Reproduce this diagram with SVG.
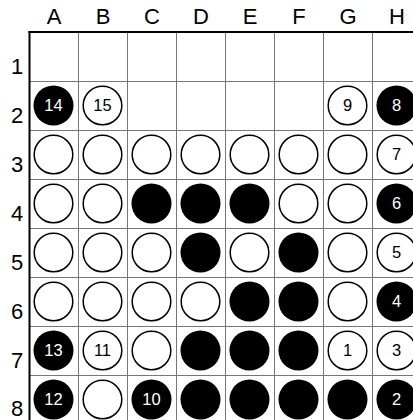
<svg xmlns="http://www.w3.org/2000/svg" width="413" height="420" viewBox="0 0 413 420">
<defs>
<style>
.b{fill:#000}
.w{fill:#fff;stroke:#000;stroke-width:1.5}
.grid{stroke:#777;stroke-width:1}
</style>
</defs>
<rect width="413" height="420" fill="#fff"/>
<g id="labels" font-family="'Liberation Sans', Arial, sans-serif" font-size="22" fill="#000" text-anchor="middle">
<text x="54" y="24">A</text>
<text x="103" y="24">B</text>
<text x="152" y="24">C</text>
<text x="201" y="24">D</text>
<text x="250" y="24">E</text>
<text x="299" y="24">F</text>
<text x="348" y="24">G</text>
<text x="397" y="24">H</text>
<text x="17" y="74">1</text>
<text x="17" y="123">2</text>
<text x="17" y="172">3</text>
<text x="17" y="221">4</text>
<text x="17" y="270">5</text>
<text x="17" y="319">6</text>
<text x="17" y="368">7</text>
<text x="17" y="415.5">8</text>
</g>
<g id="grid">
<g class="grid">
<line x1="78.5" y1="32" x2="78.5" y2="420"/>
<line x1="127.5" y1="32" x2="127.5" y2="420"/>
<line x1="176.5" y1="32" x2="176.5" y2="420"/>
<line x1="225.5" y1="32" x2="225.5" y2="420"/>
<line x1="274.5" y1="32" x2="274.5" y2="420"/>
<line x1="323.5" y1="32" x2="323.5" y2="420"/>
<line x1="372.5" y1="32" x2="372.5" y2="420"/>
<line x1="29" y1="81.5" x2="413" y2="81.5"/>
<line x1="29" y1="130.5" x2="413" y2="130.5"/>
<line x1="29" y1="179.5" x2="413" y2="179.5"/>
<line x1="29" y1="228.5" x2="413" y2="228.5"/>
<line x1="29" y1="277.5" x2="413" y2="277.5"/>
<line x1="29" y1="326.5" x2="413" y2="326.5"/>
<line x1="29" y1="375.5" x2="413" y2="375.5"/>
</g>
<line x1="29.5" y1="31" x2="29.5" y2="420" stroke="#000" stroke-width="2"/>
<line x1="28.5" y1="32" x2="413" y2="32" stroke="#000" stroke-width="2"/>
</g>
<g id="stones">
<g id="A3"><circle class="w" cx="53.5" cy="154.5" r="19.3"/></g>
<g id="B3"><circle class="w" cx="102.5" cy="154.5" r="19.3"/></g>
<g id="C3"><circle class="w" cx="151.5" cy="154.5" r="19.3"/></g>
<g id="D3"><circle class="w" cx="200.5" cy="154.5" r="19.3"/></g>
<g id="E3"><circle class="w" cx="249.5" cy="154.5" r="19.3"/></g>
<g id="F3"><circle class="w" cx="298.5" cy="154.5" r="19.3"/></g>
<g id="G3"><circle class="w" cx="347.5" cy="154.5" r="19.3"/></g>
<g id="A4"><circle class="w" cx="53.5" cy="203.5" r="19.3"/></g>
<g id="B4"><circle class="w" cx="102.5" cy="203.5" r="19.3"/></g>
<g id="C4"><circle class="b" cx="151.5" cy="203.5" r="20"/></g>
<g id="D4"><circle class="b" cx="200.5" cy="203.5" r="20"/></g>
<g id="E4"><circle class="b" cx="249.5" cy="203.5" r="20"/></g>
<g id="F4"><circle class="w" cx="298.5" cy="203.5" r="19.3"/></g>
<g id="G4"><circle class="w" cx="347.5" cy="203.5" r="19.3"/></g>
<g id="A5"><circle class="w" cx="53.5" cy="252.5" r="19.3"/></g>
<g id="B5"><circle class="w" cx="102.5" cy="252.5" r="19.3"/></g>
<g id="C5"><circle class="w" cx="151.5" cy="252.5" r="19.3"/></g>
<g id="D5"><circle class="b" cx="200.5" cy="252.5" r="20"/></g>
<g id="E5"><circle class="w" cx="249.5" cy="252.5" r="19.3"/></g>
<g id="F5"><circle class="b" cx="298.5" cy="252.5" r="20"/></g>
<g id="G5"><circle class="w" cx="347.5" cy="252.5" r="19.3"/></g>
<g id="A6"><circle class="w" cx="53.5" cy="301.5" r="19.3"/></g>
<g id="B6"><circle class="w" cx="102.5" cy="301.5" r="19.3"/></g>
<g id="C6"><circle class="w" cx="151.5" cy="301.5" r="19.3"/></g>
<g id="D6"><circle class="w" cx="200.5" cy="301.5" r="19.3"/></g>
<g id="E6"><circle class="b" cx="249.5" cy="301.5" r="20"/></g>
<g id="F6"><circle class="b" cx="298.5" cy="301.5" r="20"/></g>
<g id="G6"><circle class="w" cx="347.5" cy="301.5" r="19.3"/></g>
<g id="C7"><circle class="w" cx="151.5" cy="350.5" r="19.3"/></g>
<g id="D7"><circle class="b" cx="200.5" cy="350.5" r="20"/></g>
<g id="E7"><circle class="b" cx="249.5" cy="350.5" r="20"/></g>
<g id="F7"><circle class="b" cx="298.5" cy="350.5" r="20"/></g>
<g id="B8"><circle class="w" cx="102.5" cy="399.5" r="19.3"/></g>
<g id="D8"><circle class="b" cx="200.5" cy="399.5" r="20"/></g>
<g id="E8"><circle class="b" cx="249.5" cy="399.5" r="20"/></g>
<g id="F8"><circle class="b" cx="298.5" cy="399.5" r="20"/></g>
<g id="G8"><circle class="b" cx="347.5" cy="399.5" r="20"/></g>
</g>
<g id="numbered" font-family="'Liberation Sans', Arial, sans-serif" font-size="16.5" text-anchor="middle">
<g id="A2"><circle class="b" cx="53.5" cy="105.5" r="20"/><text fill="#fff" x="53.5" y="111.4">14</text></g>
<g id="B2"><circle class="w" cx="102.5" cy="105.5" r="19.3"/><text fill="#000" x="102.5" y="111.4">15</text></g>
<g id="G2"><circle class="w" cx="347.5" cy="105.5" r="19.3"/><text fill="#000" x="347.5" y="111.4">9</text></g>
<g id="H2"><circle class="b" cx="396.5" cy="105.5" r="20"/><text fill="#fff" x="396.5" y="111.4">8</text></g>
<g id="H3"><circle class="w" cx="396.5" cy="154.5" r="19.3"/><text fill="#000" x="396.5" y="160.4">7</text></g>
<g id="H4"><circle class="b" cx="396.5" cy="203.5" r="20"/><text fill="#fff" x="396.5" y="209.4">6</text></g>
<g id="H5"><circle class="w" cx="396.5" cy="252.5" r="19.3"/><text fill="#000" x="396.5" y="258.4">5</text></g>
<g id="H6"><circle class="b" cx="396.5" cy="301.5" r="20"/><text fill="#fff" x="396.5" y="307.4">4</text></g>
<g id="A7"><circle class="b" cx="53.5" cy="350.5" r="20"/><text fill="#fff" x="53.5" y="356.4">13</text></g>
<g id="B7"><circle class="w" cx="102.5" cy="350.5" r="19.3"/><text fill="#000" x="102.5" y="356.4">11</text></g>
<g id="G7"><circle class="w" cx="347.5" cy="350.5" r="19.3"/><text fill="#000" x="347.5" y="356.4">1</text></g>
<g id="H7"><circle class="w" cx="396.5" cy="350.5" r="19.3"/><text fill="#000" x="396.5" y="356.4">3</text></g>
<g id="A8"><circle class="b" cx="53.5" cy="399.5" r="20"/><text fill="#fff" x="53.5" y="405.4">12</text></g>
<g id="C8"><circle class="b" cx="151.5" cy="399.5" r="20"/><text fill="#fff" x="151.5" y="405.4">10</text></g>
<g id="H8"><circle class="b" cx="396.5" cy="399.5" r="20"/><text fill="#fff" x="396.5" y="405.4">2</text></g>
</g>
</svg>
